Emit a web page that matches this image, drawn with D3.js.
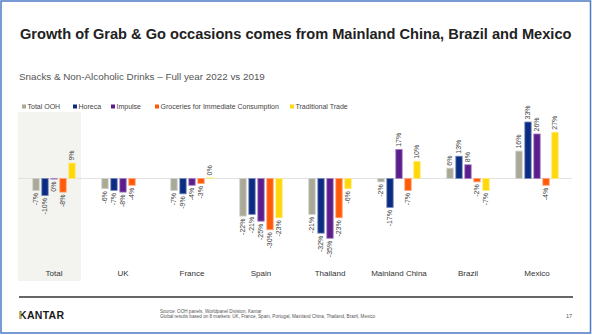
<!DOCTYPE html>
<html>
<head>
<meta charset="utf-8">
<script src="https://cdn.jsdelivr.net/npm/d3@7"></script>
<style>
  html, body { margin: 0; padding: 0; background: #fff; }
  svg { display: block; font-family: "Liberation Sans", Arial, sans-serif; }
</style>
</head>
<body>
<svg id="chart" width="592" height="335"></svg>
<script>
// Markets and channels
const markets = ["Total", "UK", "France", "Spain", "Thailand", "Mainland China", "Brazil", "Mexico"];
const channels = ["Total OOH", "Horeca", "Impulse", "Groceries for Immediate Consumption", "Traditional Trade"];
const channelColors = ["#A9A999", "#0B2C82", "#5C1E8C", "#FF5A08", "#FFD80A"];

// % change 2022 vs 2019, one array per channel (null = not reported)
const totalOOH    = [-7, -6, -7, -22, -21, -2, 6, 16];
const horeca      = [-10, -7, -9, -21, -32, -17, 13, 33];
const impulse     = [-0.4, -8, -4, -25, -35, 17, 8, 26];
const groceries   = [-8, -4, -3, -30, -23, -7, -2, -4];
const tradTrade   = [9, null, 0.3, -23, -6, 10, -7, 27];
const seriesValues = [totalOOH, horeca, impulse, groceries, tradTrade];

const svg = d3.select("#chart");

// frame
svg.append("rect").attr("x", 1).attr("y", 1).attr("width", 589.5).attr("height", 332)
  .attr("fill", "#fff").attr("stroke", "#4E79C4").attr("stroke-width", 1.5);

// title, fitted to the slide width
const title = svg.append("text").attr("x", 20).attr("y", 39)
  .attr("font-size", 16).attr("font-weight", "bold").attr("fill", "#222")
  .text("Growth of Grab & Go occasions comes from Mainland China, Brazil and Mexico");
const tw = title.node().getComputedTextLength();
title.attr("font-size", 16 * 552 / tw);

const sub = svg.append("text").attr("x", 19).attr("y", 80)
  .attr("font-size", 10).attr("fill", "#555")
  .text("Snacks & Non-Alcoholic Drinks \u2013 Full year 2022 vs 2019");
const sw = sub.node().getComputedTextLength();
sub.attr("font-size", 10 * 246 / sw);

// chart scales
const x = d3.scaleBand().domain(markets).range([19.5, 571.5]);
const y = d3.scaleLinear().domain([-35, 33]).range([238.3, 122]);
const slot = 9, barW = 6.4;

// highlight behind the Total group
svg.append("rect").attr("x", 18).attr("y", 112).attr("width", 63).attr("height", 169)
  .attr("fill", "#F3F3F0");

// legend
const legendX = [22, 73, 111, 155, 290];
const lg = svg.append("g").selectAll("g").data(channels).join("g")
  .attr("transform", (d, i) => `translate(${legendX[i]},107)`);
lg.append("rect").attr("x", 0).attr("y", -2.5).attr("width", 4).attr("height", 4)
  .attr("fill", (d, i) => channelColors[i]);
lg.append("text").attr("x", 5.5).attr("y", 2.3).attr("font-size", 7).attr("fill", "#444").text(d => d);

// zero line
svg.append("line").attr("x1", 18).attr("x2", 572).attr("y1", y(0)).attr("y2", y(0))
  .attr("stroke", "#E2E2E2").attr("stroke-width", 1);

// bars and value labels
const cells = [];
seriesValues.forEach((vals, s) => vals.forEach((v, m) => {
  if (v !== null) cells.push({ s, m, v });
}));

const bx = d => x(markets[d.m]) + x.bandwidth() / 2 + (d.s - 2) * slot - barW / 2;

svg.append("g").selectAll("rect").data(cells).join("rect")
  .attr("x", bx)
  .attr("y", d => y(Math.max(0, d.v)))
  .attr("width", barW)
  .attr("height", d => Math.abs(y(d.v) - y(0)))
  .attr("fill", d => d.m === 0 && d.s === 2 ? "#C9B8DD" : channelColors[d.s])
  .attr("stroke", d => d3.interpolateRgb(channelColors[d.s], "#fff")(0.45))
  .attr("stroke-width", 0.8);

svg.append("g").selectAll("text").data(cells).join("text")
  .attr("transform", d => {
    const cx = bx(d) + barW / 2 + 2.4;
    const cy = d.v >= 0 ? y(d.v) - 2.5 : y(d.v) + 2.5;
    return `translate(${cx},${cy}) rotate(-90)`;
  })
  .attr("text-anchor", d => d.v >= 0 ? "start" : "end")
  .attr("font-size", 7).attr("fill", "#444")
  .text(d => `${Math.round(d.v) === 0 ? 0 : Math.round(d.v)}%`);

// market labels
svg.append("g").selectAll("text").data(markets).join("text")
  .attr("x", d => x(d) + x.bandwidth() / 2).attr("y", 276)
  .attr("text-anchor", "middle").attr("font-size", 8).attr("fill", "#333").text(d => d);

// footer
svg.append("line").attr("x1", 19).attr("x2", 573).attr("y1", 297).attr("y2", 297)
  .attr("stroke", "#333").attr("stroke-width", 1.5);
const logo = svg.append("text").attr("x", 19).attr("y", 319).attr("font-size", 10.5)
  .attr("font-weight", "bold").attr("fill", "#1a1a1a").attr("letter-spacing", 0.3).text("KANTAR");
svg.append("rect").attr("x", 19.6).attr("y", 311.5).attr("width", 1.4).attr("height", 7.5).attr("fill", "#C9A227");
svg.append("text").attr("x", 160).attr("y", 313).attr("font-size", 4.6).attr("fill", "#555")
  .text("Source: OOH panels, Worldpanel Division, Kantar");
svg.append("text").attr("x", 160).attr("y", 318).attr("font-size", 4.6).attr("fill", "#555")
  .text("Global results based on 8 markets: UK, France, Spain, Portugal, Mainland China, Thailand, Brazil, Mexico");
svg.append("text").attr("x", 566).attr("y", 318).attr("font-size", 5.5).attr("fill", "#555").text("17");
</script>
</body>
</html>
